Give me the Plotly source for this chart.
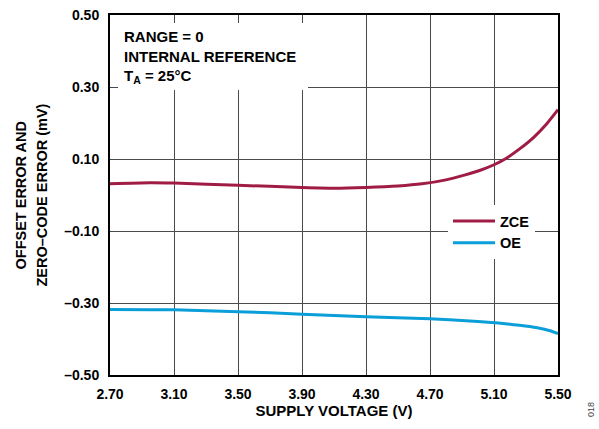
import plotly.graph_objects as go

# Supply voltage sweep (V) and measured error (mV)
zce_v = [2.70, 2.95, 3.10, 3.50, 3.90, 4.10, 4.30, 4.50, 4.65, 4.80, 4.92, 5.01, 5.10, 5.18, 5.26, 5.35, 5.43, 5.50]
zce_mv = [0.031, 0.034, 0.033, 0.027, 0.021, 0.019, 0.021, 0.025, 0.031, 0.042, 0.056, 0.068, 0.084, 0.103, 0.128, 0.161, 0.198, 0.237]

oe_v = [2.70, 3.10, 3.50, 3.90, 4.30, 4.70, 4.95, 5.11, 5.26, 5.37, 5.45, 5.50]
oe_mv = [-0.318, -0.319, -0.324, -0.331, -0.338, -0.344, -0.350, -0.355, -0.362, -0.369, -0.377, -0.385]

x_ticks = [2.70, 3.10, 3.50, 3.90, 4.30, 4.70, 5.10, 5.50]
x_labels = ["2.70", "3.10", "3.50", "3.90", "4.30", "4.70", "5.10", "5.50"]
y_ticks = [-0.50, -0.30, -0.10, 0.10, 0.30, 0.50]
y_labels = ["–0.50", "–0.30", "–0.10", "0.10", "0.30", "0.50"]

FONT = "Liberation Sans, Arial, sans-serif"
ZCE_COLOR = "#A01C45"
OE_COLOR = "#0A9FD8"

# plot area in pixels
L, R, T, B = 110, 558, 15, 375
W, H = R - L, B - T


def px(x):
    return (x - L) / W


def py(y):
    return (B - y) / H


fig = go.Figure()
fig.add_trace(go.Scatter(x=zce_v, y=zce_mv, mode="lines", name="ZCE",
                         line=dict(color=ZCE_COLOR, width=3, shape="spline", smoothing=0.6)))
fig.add_trace(go.Scatter(x=oe_v, y=oe_mv, mode="lines", name="OE",
                         line=dict(color=OE_COLOR, width=3, shape="spline", smoothing=0.6)))

# white panel behind the condition notes
fig.add_shape(type="rect", xref="paper", yref="paper",
              x0=px(118), x1=px(308), y0=py(90), y1=py(23),
              fillcolor="white", line=dict(width=0), layer="above")

fig.add_annotation(xref="paper", yref="paper", x=px(122), y=py(26),
                   xanchor="left", yanchor="top", align="left", showarrow=False,
                   text="RANGE = 0<br>INTERNAL REFERENCE<br>T<sub>A</sub> = 25°C",
                   font=dict(family=FONT, size=15, color="black", weight="bold"))

# two-line y-axis title
title_font = dict(family=FONT, size=14.5, color="black", weight="bold")
fig.add_annotation(xref="paper", yref="paper", x=px(20.5), y=py(195),
                   xanchor="center", yanchor="middle", showarrow=False, textangle=-90,
                   text="OFFSET ERROR AND", font=title_font)
fig.add_annotation(xref="paper", yref="paper", x=px(41.5), y=py(195),
                   xanchor="center", yanchor="middle", showarrow=False, textangle=-90,
                   text="ZERO–CODE ERROR (mV)", font=title_font)

fig.add_annotation(xref="paper", yref="paper", x=px(591), y=py(410),
                   xanchor="center", yanchor="middle", showarrow=False, textangle=-90,
                   text="018", font=dict(family=FONT, size=9, color="#444"))

axis_common = dict(showgrid=True, gridcolor="#4a4a4a", gridwidth=1,
                   showline=True, linecolor="black", linewidth=2, mirror=True,
                   zeroline=False, ticks="",
                   tickfont=dict(family=FONT, size=14, color="black", weight="bold"))

fig.update_xaxes(range=[2.70, 5.50], tickvals=x_ticks, ticktext=x_labels,
                 ticklabelstandoff=5,
                 title=dict(text="SUPPLY VOLTAGE (V)", standoff=3,
                            font=dict(family=FONT, size=15, color="black", weight="bold")),
                 **axis_common)
fig.update_yaxes(range=[-0.50, 0.50], tickvals=y_ticks, ticktext=y_labels,
                 ticklabelstandoff=6, **axis_common)

fig.update_layout(
    width=599, height=429,
    margin=dict(l=L, r=599 - R, t=T, b=429 - B, autoexpand=False),
    plot_bgcolor="white", paper_bgcolor="white",
    showlegend=True,
    legend=dict(x=px(448), y=py(205), xanchor="left", yanchor="top",
                bgcolor="white", borderwidth=0, tracegroupgap=0, itemwidth=42,
                font=dict(family=FONT, size=14.5, color="black", weight="bold")),
)

fig.write_html("out.html")
